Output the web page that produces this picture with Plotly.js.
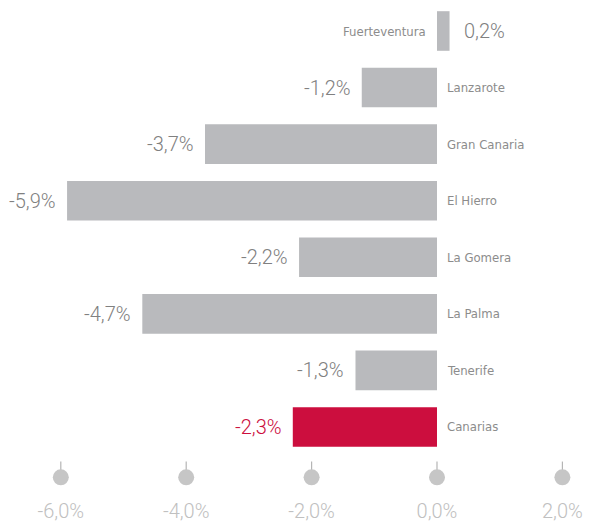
<!DOCTYPE html>
<html>
<head>
<meta charset="utf-8">
<script src="https://cdn.plot.ly/plotly-3.0.1.min.js"></script>
<style>html,body{margin:0;padding:0;background:#fff}#chart{width:590px;height:527px}</style>
</head>
<body>
<div id="chart"></div>
<script>
const categories = ["Fuerteventura","Lanzarote","Gran Canaria","El Hierro","La Gomera","La Palma","Tenerife","Canarias"];
const values = [0.2,-1.2,-3.7,-5.9,-2.2,-4.7,-1.3,-2.3];
const tickValues = [-6,-4,-2,0,2];
const tickLabels = ["-6,0%","-4,0%","-2,0%","0,0%","2,0%"];

const GREY = "#b9babd", RED = "#cc0e3e";
const idx = categories.map((c,i)=>i);
const colors = categories.map(c => c === "Canarias" ? RED : GREY);
const fmt = v => v.toFixed(1).replace('.', ',') + '%';
const PXU = 62.7;
const BOTTOM = 30;
const plotH = 527 - BOTTOM;

const traces = [
  {type:'bar', orientation:'h', x: values, y: idx, width: 0.7,
   marker:{color: colors}, hoverinfo:'none'},
  {type:'scatter', mode:'markers', x: tickValues, y: tickValues.map(()=>7.71),
   marker:{symbol:'line-ns', size:8, color:'#b5b5b5', line:{color:'#b5b5b5', width:1.2}}, hoverinfo:'none'},
  {type:'scatter', mode:'markers', x: tickValues, y: tickValues.map(()=>7.89),
   marker:{symbol:'circle', size:16, color:'#c6c6c6'}, hoverinfo:'none'}
];

const annotations = [];
categories.forEach((c,i)=>{
  const v = values[i];
  annotations.push({x:0, y:i, text:c, showarrow:false,
    xanchor: v>=0 ? 'right':'left', xshift: v>=0 ? -9 : 8,
    font:{family:'DejaVu Sans Condensed', size:13, color:'#8c8c8c'}});
  annotations.push({x:v, y:i, text:fmt(v), showarrow:false,
    xanchor: v>=0 ? 'left':'right', xshift: v>=0 ? 12 : -9,
    font:{family:'Roboto', weight:300, size:20, color: c==="Canarias" ? RED : '#808080'}});
});

const layout = {
  width:590, height:527,
  margin:{l:0, r:0, t:0, b:BOTTOM},
  paper_bgcolor:'#fff', plot_bgcolor:'#fff',
  showlegend:false,
  xaxis:{range:[-437/PXU, 153/PXU], tickvals: tickValues, ticktext: tickLabels,
    showgrid:false, zeroline:false, showline:false, ticks:'',
    tickfont:{family:'Roboto', weight:300, size:20, color:'#c0c0c0'}, fixedrange:true},
  yaxis:{range:[(plotH-31)/56.57, -31/56.57], showticklabels:false, showgrid:false,
    zeroline:false, showline:false, ticks:'', fixedrange:true},
  annotations: annotations
};
Plotly.newPlot('chart', traces, layout, {displayModeBar:false, staticPlot:true});
</script>
</body>
</html>
